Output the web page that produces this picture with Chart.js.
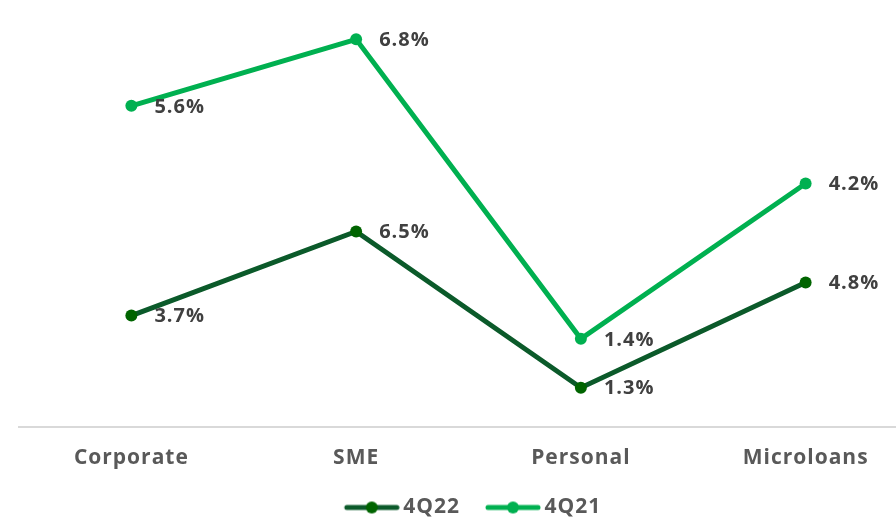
<!DOCTYPE html>
<html>
<head>
<meta charset="utf-8">
<script src="https://cdn.jsdelivr.net/npm/chart.js@4/dist/chart.umd.min.js"></script>
<style>
  html, body { margin: 0; padding: 0; background: #ffffff; overflow: hidden; }
  #wrap { position: relative; width: 924px; height: 519px; }
</style>
</head>
<body>
<div id="wrap"><canvas id="chart"></canvas></div>
<script>
// Loan segments and cost-of-risk by quarter
const categories = ['Corporate', 'SME', 'Personal', 'Microloans'];
const series4Q22 = [3.7, 6.5, 1.3, 4.8];
const series4Q21 = [5.6, 6.8, 1.4, 4.2];
const seriesNames = ['4Q22', '4Q21'];

const DARK_LINE = '#0b5a2a';
const DARK_POINT = '#006400';
const LIGHT = '#00b050';
const LABEL_COLOR = '#404040';
const TICK_COLOR = '#595959';
const FONT = '"Open Sans"';

// Legend swatch: a short line with a dot in the middle, shifted right
// so it sits close to the legend text
function legendSwatch(lineColor, dotColor) {
  const c = document.createElement('canvas');
  c.width = 70; c.height = 14;
  const g = c.getContext('2d');
  g.strokeStyle = lineColor;
  g.lineWidth = 5;
  g.lineCap = 'round';
  g.beginPath(); g.moveTo(17, 7); g.lineTo(67, 7); g.stroke();
  g.fillStyle = dotColor;
  g.beginPath(); g.arc(42, 7, 6, 0, Math.PI * 2); g.fill();
  return c;
}
const swatches = [legendSwatch(DARK_LINE, DARK_POINT), legendSwatch(LIGHT, LIGHT)];

// Slightly wider letter spacing for all chart text
const spacing = {
  id: 'spacing',
  beforeUpdate(chart) { chart.ctx.letterSpacing = '1px'; },
  beforeDraw(chart) { chart.ctx.letterSpacing = '1px'; }
};

// Percent labels to the right of each point
const valueLabels = {
  id: 'valueLabels',
  afterDatasetsDraw(chart) {
    const ctx = chart.ctx;
    ctx.save();
    ctx.font = 'bold 20px ' + FONT;
    ctx.fillStyle = LABEL_COLOR;
    ctx.textAlign = 'left';
    ctx.textBaseline = 'middle';
    chart.data.datasets.forEach((ds, i) => {
      const meta = chart.getDatasetMeta(i);
      meta.data.forEach((pt, j) => {
        ctx.fillText(ds.data[j].toFixed(1) + '%', pt.x + 23, pt.y + 1);
      });
    });
    ctx.restore();
  }
};

new Chart(document.getElementById('chart'), {
  type: 'line',
  data: {
    labels: categories,
    datasets: [
      {
        label: seriesNames[0],
        data: series4Q22,
        yAxisID: 'y',
        borderColor: DARK_LINE,
        backgroundColor: DARK_POINT,
        pointBackgroundColor: DARK_POINT,
        pointBorderColor: DARK_POINT,
        borderWidth: 5,
        pointRadius: 6,
        pointBorderWidth: 0,
        tension: 0
      },
      {
        label: seriesNames[1],
        data: series4Q21,
        yAxisID: 'y2',
        borderColor: LIGHT,
        backgroundColor: LIGHT,
        pointBackgroundColor: LIGHT,
        pointBorderColor: LIGHT,
        borderWidth: 5,
        pointRadius: 6,
        pointBorderWidth: 0,
        tension: 0
      }
    ]
  },
  options: {
    responsive: true,
    maintainAspectRatio: false,
    animation: false,
    layout: { padding: { left: 19, right: 5, top: 4, bottom: -9 } },
    scales: {
      x: {
        offset: true,
        grid: { display: false },
        border: { display: true, color: '#d9d9d9', width: 2 },
        ticks: {
          color: TICK_COLOR,
          font: { family: 'Open Sans', size: 21, weight: 'bold' },
          padding: 11
        },
        afterFit(scale) { scale.height = scale.height - 3; }
      },
      y: { display: false, min: 0, max: 14 },
      y2: { display: false, min: -0.185, max: 7.4 }
    },
    plugins: {
      tooltip: { enabled: false },
      legend: {
        position: 'bottom',
        labels: {
          usePointStyle: true,
          pointStyleWidth: 56,
          color: TICK_COLOR,
          font: { family: 'Open Sans', size: 21, weight: 'bold' },
          padding: 18,
          generateLabels(chart) {
            return chart.data.datasets.map((ds, i) => ({
              text: ds.label,
              fillStyle: ds.backgroundColor,
              strokeStyle: ds.borderColor,
              pointStyle: swatches[i],
              lineWidth: 0,
              fontColor: TICK_COLOR,
              hidden: false,
              datasetIndex: i
            }));
          }
        }
      }
    }
  },
  plugins: [spacing, valueLabels]
});
</script>
</body>
</html>
